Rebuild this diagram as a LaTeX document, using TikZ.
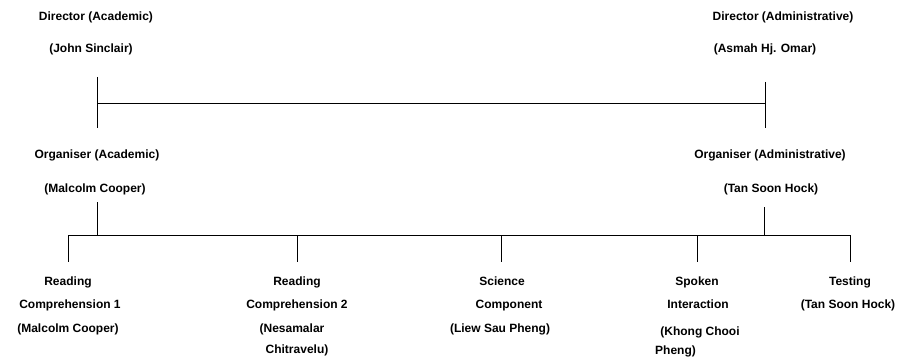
\documentclass[tikz,border=0pt]{standalone}
\usepackage{fontspec}
\setmainfont{Liberation Sans}
\begin{document}
\begin{tikzpicture}[x=1pt,y=-1pt,
  lbl/.style={anchor=base, inner sep=0pt, font=\bfseries\fontsize{12}{14}\selectfont},
  lbll/.style={anchor=base west, inner sep=0pt, font=\bfseries\fontsize{12}{14}\selectfont},
  conn/.style={line width=1pt}]
\useasboundingbox (0,0) rectangle (909,358);
% top level
\node[lbl] (dirA) at (96,21) {Director (Academic)};
\node[lbl] (dirAn) at (91,53) {(John Sinclair)};
\node[lbl] (dirB) at (783,21) {Director (Administrative)};
\node[lbl] (dirBn) at (765,53) {(Asmah Hj. Omar)};
% organisers
\node[lbl] (orgA) at (97,159) {Organiser (Academic)};
\node[lbl] (orgAn) at (95,192) {(Malcolm Cooper)};
\node[lbl] (orgB) at (770,159) {Organiser (Administrative)};
\node[lbl] (orgBn) at (771,192) {(Tan Soon Hock)};
% components
\node[lbl] (r1a) at (68,285) {Reading};
\node[lbl] (r1b) at (70,308) {Comprehension 1};
\node[lbl] (r1c) at (68,332) {(Malcolm Cooper)};
\node[lbl] (r2a) at (297,285) {Reading};
\node[lbl] (r2b) at (297,308) {Comprehension 2};
\node[lbl] (r2c) at (292,332) {(Nesamalar};
\node[lbl] (r2d) at (297,353) {Chitravelu)};
\node[lbl] (sca) at (502,285) {Science};
\node[lbl] (scb) at (509,308) {Component};
\node[lbl] (scc) at (500,332) {(Liew Sau Pheng)};
\node[lbl] (spa) at (697,285) {Spoken};
\node[lbl] (spb) at (698,308) {Interaction};
\node[lbl] (spc) at (700,335) {(Khong Chooi};
\node[lbll] (spd) at (655,354) {Pheng)};
\node[lbl] (tea) at (850,285) {Testing};
\node[lbl] (teb) at (848,308) {(Tan Soon Hock)};
% junction coordinates
\coordinate (tl1) at (97,77);
\coordinate (tlj) at (97,104);
\coordinate (tl2) at (97,128);
\coordinate (tr1) at (765,82);
\coordinate (trj) at (765,104);
\coordinate (tr2) at (765,128);
\coordinate (mc1) at (97,202);
\coordinate (mcj) at (97,235);
\coordinate (ts1) at (764,207);
\coordinate (tsj) at (764,235);
\coordinate (b1) at (68,235);
\coordinate (b2) at (297,235);
\coordinate (b3) at (501,235);
\coordinate (b4) at (697,235);
\coordinate (b5) at (850,235);
\coordinate (d1) at (68,262);
\coordinate (d2) at (297,262);
\coordinate (d3) at (501,262);
\coordinate (d4) at (697,262);
\coordinate (d5) at (850,262);
% connectors
\draw[conn] (tl1) -- (tl2);
\draw[conn] (tr1) -- (tr2);
\draw[conn] (tlj) -- (trj);
\draw[conn] (mc1) -- (mcj);
\draw[conn] (ts1) -- (tsj);
\draw[conn] (b1) -- (b5);
\draw[conn] (b1) -- (d1);
\draw[conn] (b2) -- (d2);
\draw[conn] (b3) -- (d3);
\draw[conn] (b4) -- (d4);
\draw[conn] (b5) -- (d5);
\end{tikzpicture}
\end{document}
